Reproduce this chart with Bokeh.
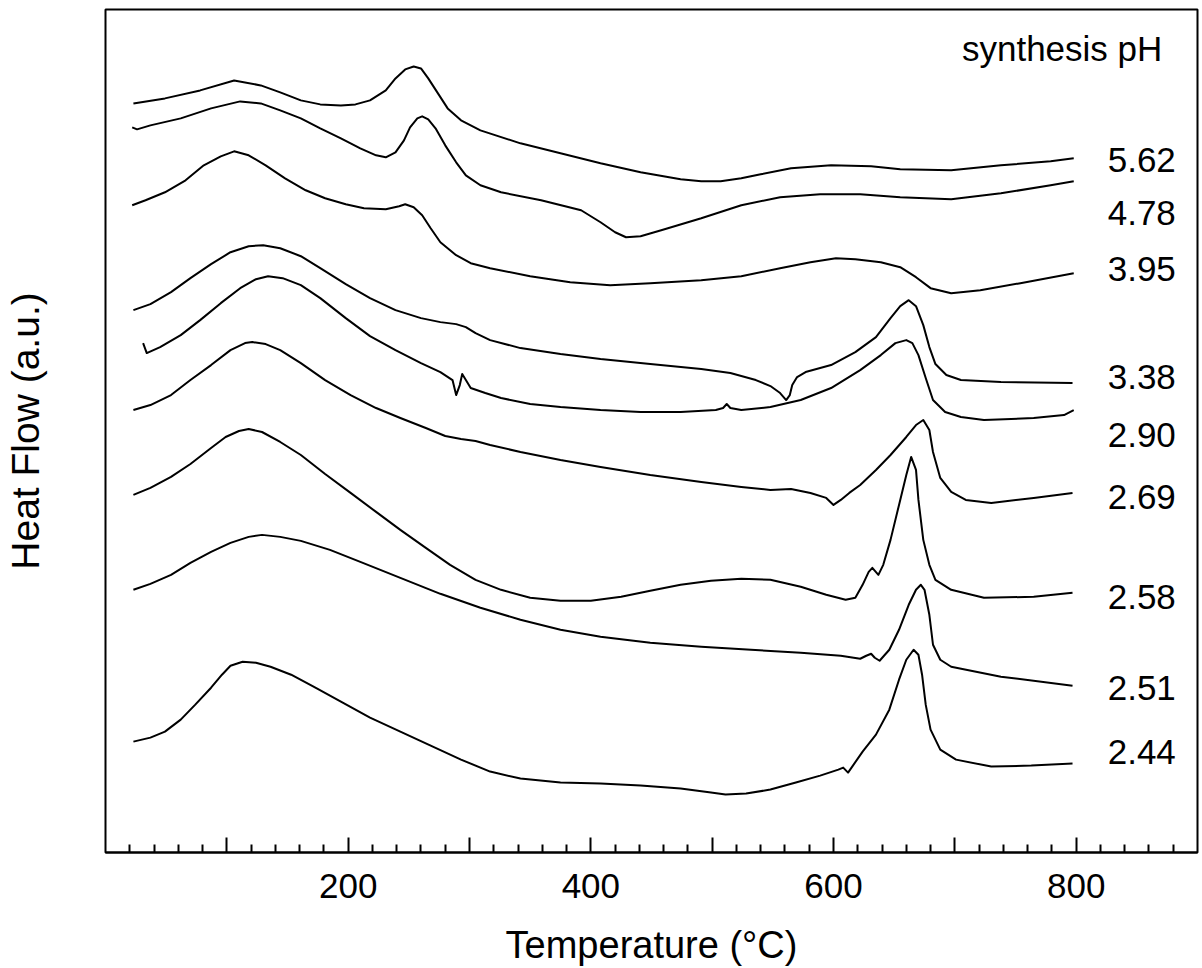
from bokeh.plotting import figure
from bokeh.models import FixedTicker, Range1d
from bokeh.core.properties import value
from bokeh.embed import file_html
from bokeh.resources import INLINE

FONT = "Liberation Sans"

# synthesis pH of each DSC trace (top to bottom)
ph_labels = ["5.62", "4.78", "3.95", "3.38", "2.90", "2.69", "2.58", "2.51", "2.44"]

# temperature (deg C) and heat flow (a.u., stacked offsets) for each trace
t_562 = [23, 49, 78, 106, 128, 144, 161, 177, 194, 206, 218, 231, 239, 247, 254, 260, 266, 274, 282, 293, 309, 342, 375, 408, 441, 474, 491, 507, 524, 540, 565, 598, 631, 655, 697, 738, 779, 798]
h_562 = [750, 755, 763, 773, 768, 761, 753, 749, 748, 749, 753, 763, 775, 784, 787, 785, 775, 760, 745, 733, 723, 710, 700, 690, 681, 674, 672, 672, 675, 679, 685, 688, 687, 684, 683, 688, 692, 695]

t_478 = [22, 26, 37, 62, 87, 111, 128, 144, 161, 177, 194, 210, 223, 231, 239, 246, 251, 257, 261, 266, 272, 280, 289, 297, 309, 326, 359, 392, 408, 420, 429, 441, 458, 491, 524, 556, 589, 622, 655, 697, 738, 779, 798]
h_478 = [726, 724, 728, 735, 745, 752, 750, 743, 735, 725, 715, 705, 698, 696, 701, 713, 726, 735, 737, 734, 725, 708, 691, 678, 668, 661, 653, 643, 631, 621, 616, 617, 623, 635, 648, 656, 659, 659, 656, 654, 660, 668, 672]

t_395 = [22, 33, 49, 66, 81, 95, 106, 118, 132, 148, 165, 181, 198, 213, 231, 242, 247, 254, 261, 268, 276, 289, 301, 317, 350, 383, 416, 449, 491, 524, 556, 581, 602, 618, 639, 655, 668, 680, 697, 721, 754, 798]
h_395 = [648, 653, 661, 673, 688, 697, 702, 698, 688, 675, 663, 655, 649, 645, 644, 647, 649, 646, 638, 625, 611, 598, 590, 585, 577, 571, 568, 570, 573, 577, 585, 591, 595, 594, 591, 586, 576, 565, 560, 563, 570, 580]

t_338 = [23, 37, 54, 70, 87, 103, 118, 130, 144, 161, 177, 198, 218, 239, 260, 276, 289, 297, 305, 317, 342, 375, 408, 449, 491, 515, 536, 548, 556, 561, 564, 566, 570, 577, 598, 618, 635, 647, 655, 662, 668, 674, 679, 684, 693, 705, 738, 797]
h_338 = [543, 549, 561, 575, 589, 601, 607, 608, 605, 597, 585, 569, 555, 543, 535, 531, 529, 526, 520, 513, 505, 499, 494, 489, 484, 480, 473, 467, 460, 453, 458, 468, 476, 481, 488, 501, 516, 535, 547, 553, 547, 528, 506, 489, 478, 473, 471, 470]

t_290 = [31, 34, 45, 62, 78, 95, 111, 124, 134, 146, 161, 177, 198, 218, 239, 260, 276, 286, 289, 292, 294, 297, 301, 313, 326, 350, 375, 408, 441, 474, 503, 509, 512, 515, 524, 548, 573, 598, 622, 639, 651, 660, 665, 670, 676, 682, 692, 705, 724, 765, 790, 798]
h_290 = [510, 500, 506, 518, 533, 550, 565, 574, 577, 575, 568, 555, 535, 517, 503, 490, 481, 473, 458, 468, 479, 473, 465, 460, 455, 449, 446, 443, 441, 441, 443, 445, 449, 445, 443, 446, 453, 465, 483, 498, 510, 513, 510, 498, 475, 453, 441, 436, 433, 435, 438, 443]

t_269 = [23, 37, 54, 70, 87, 103, 115, 121, 132, 144, 161, 181, 202, 223, 243, 264, 280, 293, 305, 317, 342, 375, 408, 449, 491, 524, 548, 565, 581, 594, 600, 606, 613, 622, 635, 647, 660, 668, 674, 679, 682, 688, 697, 709, 730, 765, 797]
h_269 = [443, 448, 458, 473, 488, 503, 510, 511, 509, 503, 490, 473, 458, 445, 435, 425, 417, 414, 412, 408, 401, 393, 386, 378, 371, 366, 363, 364, 360, 355, 348, 353, 360, 368, 383, 398, 416, 428, 433, 423, 401, 375, 361, 353, 350, 355, 360]

t_258 = [23, 37, 54, 70, 87, 99, 110, 118, 129, 144, 161, 181, 202, 223, 243, 264, 284, 305, 326, 350, 375, 400, 425, 449, 474, 499, 524, 548, 573, 594, 610, 618, 624, 629, 632, 637, 641, 647, 654, 660, 664, 668, 670, 674, 679, 684, 697, 724, 765, 797]
h_258 = [358, 365, 376, 389, 405, 416, 422, 424, 421, 411, 398, 379, 360, 341, 323, 305, 288, 273, 263, 255, 252, 252, 256, 262, 268, 272, 274, 273, 266, 258, 253, 255, 268, 281, 285, 278, 288, 313, 348, 378, 396, 383, 353, 313, 288, 273, 263, 255, 256, 260]

t_251 = [23, 37, 54, 70, 87, 103, 118, 129, 144, 161, 185, 210, 243, 276, 309, 342, 375, 408, 449, 491, 532, 573, 606, 622, 627, 631, 634, 638, 646, 654, 662, 668, 672, 675, 679, 682, 688, 697, 738, 797]
h_251 = [263, 269, 278, 290, 301, 310, 316, 318, 316, 312, 303, 291, 275, 259, 245, 233, 223, 216, 210, 206, 203, 200, 197, 194, 197, 199, 195, 192, 203, 223, 248, 263, 268, 263, 238, 208, 193, 186, 176, 167]

t_244 = [23, 37, 49, 62, 74, 87, 96, 103, 113, 124, 136, 153, 173, 194, 218, 243, 268, 293, 317, 342, 375, 408, 441, 474, 499, 511, 528, 548, 569, 589, 604, 608, 612, 616, 624, 635, 646, 654, 660, 666, 670, 673, 676, 680, 688, 701, 730, 763, 797]
h_244 = [111, 115, 121, 133, 148, 165, 178, 187, 191, 190, 186, 178, 165, 151, 135, 121, 107, 93, 81, 74, 70, 69, 67, 64, 60, 58, 59, 63, 70, 77, 83, 85, 80, 87, 101, 118, 143, 173, 193, 203, 198, 178, 148, 123, 103, 93, 86, 87, 89]

temps = [t_562, t_478, t_395, t_338, t_290, t_269, t_258, t_251, t_244]
heats = [h_562, h_478, h_395, h_338, h_290, h_269, h_258, h_251, h_244]

# layout of the annotation text (not data)
LABEL_T = 826
label_heat = [693, 640, 584, 476, 418, 356, 256, 165, 101]

p = figure(width=1202, height=968, x_range=Range1d(0, 900), y_range=Range1d(0, 844),
           output_backend="svg", toolbar_location=None,
           min_border_left=105, min_border_right=5, min_border_top=9, min_border_bottom=115)
p.background_fill_color = "white"
p.border_fill_color = "white"
p.outline_line_color = "black"
p.outline_line_width = 2
p.xgrid.visible = False
p.ygrid.visible = False

for t, h in zip(temps, heats):
    p.line(t, h, line_color="black", line_width=2, line_join="round")

p.text(x=[LABEL_T] * len(ph_labels), y=label_heat, text=ph_labels,
       text_font=value(FONT), text_font_size="35px", text_color="black",
       text_baseline="middle", text_align="left")
p.text(x=[871], y=[805], text=["synthesis pH"],
       text_font=value(FONT), text_font_size="35px", text_color="black",
       text_baseline="middle", text_align="right")

xa = p.xaxis[0]
xa.ticker = FixedTicker(ticks=[100, 200, 300, 400, 500, 600, 700, 800],
                        minor_ticks=[v for v in range(20, 900, 20) if v % 100 != 0])
xa.major_label_overrides = {100: "", 300: "", 500: "", 700: ""}
xa.major_tick_in = 15
xa.major_tick_out = 0
xa.minor_tick_in = 8
xa.minor_tick_out = 0
xa.major_tick_line_width = 2
xa.minor_tick_line_width = 2
xa.axis_line_width = 2
xa.major_label_text_font = FONT
xa.major_label_text_font_size = "35px"
xa.major_label_text_color = "black"
xa.major_label_standoff = 21
xa.axis_label = "Temperature (°C)"
xa.axis_label_text_font = FONT
xa.axis_label_text_font_size = "38px"
xa.axis_label_text_font_style = "normal"
xa.axis_label_text_color = "black"
xa.axis_label_standoff = 23

ya = p.yaxis[0]
ya.ticker = FixedTicker(ticks=[])
ya.axis_line_color = None
ya.major_tick_line_color = None
ya.minor_tick_line_color = None
ya.major_label_standoff = 0
ya.axis_label = "Heat Flow (a.u.)"
ya.axis_label_text_font = FONT
ya.axis_label_text_font_size = "39px"
ya.axis_label_text_font_style = "normal"
ya.axis_label_text_color = "black"
ya.axis_label_standoff = 59

open("out.html", "w").write(file_html(p, INLINE))
